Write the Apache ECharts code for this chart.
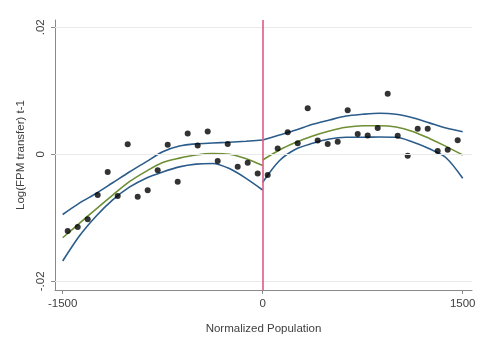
<!DOCTYPE html>
<html><head><meta charset="utf-8">
<script src="https://cdn.jsdelivr.net/npm/echarts@6/dist/echarts.min.js"></script>
<style>html,body{margin:0;padding:0;background:#fff}#c{width:482px;height:350px}</style>
</head><body><div id="c"></div>
<script>
// Tick values and labels
const xTicks = [-1500, 0, 1500];
const xTickLabels = ['-1500', '0', '1500'];
const yTicks = [-0.02, 0, 0.02];
const yTickLabels = ['-.02', '0', '.02'];

// Binned scatter (bin centres)
const binX = [-1462.5,-1387.5,-1312.5,-1237.5,-1162.5,-1087.5,-1012.5,-937.5,-862.5,-787.5,
  -712.5,-637.5,-562.5,-487.5,-412.5,-337.5,-262.5,-187.5,-112.5,-37.5,
  37.5,112.5,187.5,262.5,337.5,412.5,487.5,562.5,637.5,712.5,
  787.5,862.5,937.5,1012.5,1087.5,1162.5,1237.5,1312.5,1387.5,1462.5];
const binY = [-0.01208,-0.01145,-0.01024,-0.00641,-0.00279,-0.00657,0.00158,-0.00668,-0.00567,-0.00252,
  0.00151,-0.00432,0.00328,0.00139,0.00359,-0.00106,0.00162,-0.00195,-0.00132,-0.00302,
  -0.00326,0.00091,0.00347,0.00173,0.00725,0.00217,0.00162,0.00198,0.00693,0.0032,
  0.00296,0.00414,0.00954,0.00291,-0.00024,0.00403,0.00403,0.00052,0.00072,0.0022];

// Left-side fit and confidence band
const leftX     = [-1500,-1375,-1250,-1125,-1000,-875,-750,-625,-500,-375,-250,-125,0];
const leftUpper = [-0.00948,-0.00769,-0.00617,-0.00448,-0.00279,-0.0012,0.0004,0.0013,0.00165,0.00178,0.00189,0.00205,0.00225];
const leftFit   = [-0.01314,-0.01087,-0.00862,-0.00642,-0.00431,-0.00268,-0.00129,-0.0006,-0.0001,0.0001,0.00002,-0.0007,-0.00176];
const leftLower = [-0.0168,-0.01287,-0.00975,-0.00718,-0.00518,-0.00376,-0.00278,-0.00198,-0.00155,-0.00145,-0.00225,-0.00378,-0.00562];

// Right-side fit and confidence band
const rightX     = [0,125,250,375,500,625,750,875,1000,1125,1250,1375,1500];
const rightUpper = [0.00225,0.00304,0.00383,0.00473,0.0054,0.00603,0.0063,0.00646,0.0063,0.00575,0.00495,0.00415,0.00356];
const rightFit   = [-0.0009,0.00068,0.00189,0.00288,0.00367,0.00425,0.0045,0.0045,0.0043,0.0036,0.0025,0.00125,-0.00011];
const rightLower = [-0.0044,-0.00101,0.00083,0.00173,0.00241,0.00268,0.00268,0.00272,0.00268,0.00194,0.00088,-0.00054,-0.00378];

const zip = (xs, ys) => xs.map((x, i) => [x, ys[i]]);
const BLUE = '#2b5c8a', GREEN = '#6f8f35', RED = '#de5b84';
const FONT = 'Liberation Sans';
const lineSeries = (xs, ys, color) => ({
  type: 'line', data: zip(xs, ys), showSymbol: false, smooth: 0.3,
  lineStyle: { color: color, width: 1.6 }, z: 3, silent: true
});

const chart = echarts.init(document.getElementById('c'), null, { renderer: 'canvas' });
chart.setOption({
  animation: false,
  backgroundColor: '#ffffff',
  grid: { left: 55, right: 10, top: 20, bottom: 60 },
  xAxis: {
    type: 'value', min: -1557.75, max: 1569.75,
    name: 'Normalized Population', nameLocation: 'middle', nameGap: 33,
    nameTextStyle: { fontFamily: FONT, fontSize: 11.5, color: '#404040' },
    axisLine: { show: true, onZero: false, lineStyle: { color: '#8a8a8a', width: 1 } },
    axisTick: { show: true, length: 4, customValues: xTicks, lineStyle: { color: '#8a8a8a' } },
    axisLabel: { customValues: xTicks, margin: 8, fontFamily: FONT, fontSize: 11.5, color: '#404040',
      formatter: v => xTickLabels[xTicks.indexOf(v)] ?? '' },
    splitLine: { show: false }
  },
  yAxis: {
    type: 'value', min: -0.02137, max: 0.02115,
    name: 'Log(FPM transfer) t-1', nameLocation: 'middle', nameGap: 27,
    nameTextStyle: { fontFamily: FONT, fontSize: 11.5, color: '#404040' },
    axisLine: { show: true, onZero: false, lineStyle: { color: '#8a8a8a', width: 1 } },
    axisTick: { show: true, length: 4, customValues: yTicks, lineStyle: { color: '#8a8a8a' } },
    axisLabel: { customValues: yTicks, rotate: 90, margin: 8, fontFamily: FONT, fontSize: 11.5, color: '#404040',
      formatter: v => { const i = yTicks.findIndex(t => Math.abs(t - v) < 1e-9); return i >= 0 ? yTickLabels[i] : ''; } },
    splitLine: { show: false }
  },
  series: [
    { type: 'line', data: [], silent: true, z: 1,
      markLine: { silent: true, symbol: ['none','none'], label: { show: false },
        data: yTicks.map(t => ({ yAxis: t, lineStyle: { color: '#e9e9e9', width: 1, type: 'solid' } }))
          .concat([{ xAxis: 0, lineStyle: { color: RED, width: 1.6, type: 'solid' } }]) } },
    lineSeries(leftX, leftUpper, BLUE),
    lineSeries(leftX, leftLower, BLUE),
    lineSeries(leftX, leftFit, GREEN),
    lineSeries(rightX, rightUpper, BLUE),
    lineSeries(rightX, rightLower, BLUE),
    lineSeries(rightX, rightFit, GREEN),
    { type: 'scatter', data: zip(binX, binY), symbol: 'circle', symbolSize: 6,
      itemStyle: { color: '#000000' }, z: 4, silent: true }
  ]
});
</script></body></html>
